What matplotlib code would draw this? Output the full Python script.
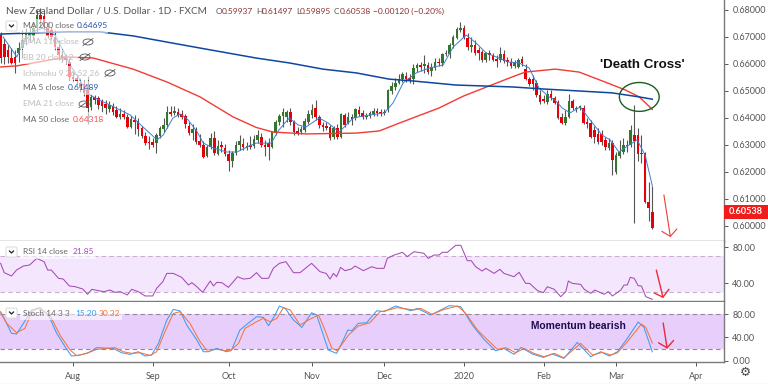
import matplotlib
matplotlib.use("Agg")
import matplotlib.pyplot as plt
from matplotlib.patches import Ellipse, Rectangle, FancyBboxPatch

# daily candles (bar number, price)
opens = [.6707,.6674,.6652,.6622,.6626,.6641,.6659,.6689,.6704,.6704,.6733,.6781,.6778,.6733,.6726,.6700,.6663,.6633,.6626,.6607,
         .6552,.6548,.6530,.6526,.6504,.6441,.6478,.6474,.6463,.6452,.6433,.6444,.6430,.6404,.6415,.6404,.6367,.6393,.6389,.6363,
         .6333,.6311,.6311,.6307,.6333,.6359,.6374,.6422,.6419,.6422,.6415,.6407,.6370,.6344,.6359,.6315,.6300,.6259,.6293,.6326,
         .6267,.6300,.6289,.6267,.6241,.6270,.6300,.6304,.6289,.6300,.6296,.6319,.6330,.6300,.6307,.6293,.6344,.6385,.6407,.6404,
         .6422,.6385,.6352,.6348,.6356,.6385,.6411,.6437,.6404,.6374,.6370,.6367,.6330,.6363,.6330,.6411,.6381,.6404,.6400,.6430,
         .6419,.6404,.6407,.6415,.6426,.6422,.6422,.6430,.6500,.6515,.6530,.6544,.6556,.6548,.6544,.6585,.6596,.6593,.6596,.6574,
         .6585,.6607,.6604,.6637,.6637,.6670,.6696,.6726,.6733,.6696,.6663,.6670,.6652,.6644,.6615,.6641,.6633,.6619,.6615,.6637,
         .6615,.6607,.6593,.6589,.6619,.6581,.6544,.6544,.6530,.6485,.6470,.6459,.6489,.6474,.6459,.6404,.6381,.6404,.6463,.6433,
         .6437,.6437,.6385,.6381,.6356,.6341,.6341,.6319,.6289,.6307,.6200,.6259,.6274,.6296,.6300,.6337,.6337,.6270,.6270,.6089,.6052]
closes = [.6622,.6626,.6626,.6604,.6604,.6659,.6689,.6719,.6719,.6733,.6781,.6763,.6737,.6704,.6700,.6663,.6633,.6622,.6615,.6552,
          .6544,.6537,.6511,.6493,.6437,.6478,.6467,.6448,.6444,.6437,.6448,.6422,.6404,.6415,.6404,.6367,.6396,.6385,.6359,.6333,
          .6307,.6307,.6300,.6337,.6363,.6374,.6422,.6415,.6426,.6411,.6404,.6378,.6344,.6359,.6311,.6300,.6256,.6293,.6326,.6270,
          .6296,.6293,.6267,.6241,.6270,.6300,.6315,.6293,.6296,.6293,.6322,.6337,.6300,.6293,.6293,.6348,.6385,.6407,.6422,.6422,
          .6385,.6348,.6344,.6359,.6389,.6415,.6430,.6404,.6374,.6367,.6363,.6326,.6363,.6330,.6415,.6374,.6404,.6396,.6433,.6415,
          .6404,.6407,.6419,.6426,.6419,.6419,.6419,.6504,.6519,.6530,.6544,.6563,.6544,.6541,.6585,.6596,.6589,.6600,.6570,.6589,
          .6607,.6604,.6637,.6641,.6670,.6700,.6730,.6733,.6696,.6663,.6670,.6641,.6641,.6615,.6641,.6633,.6615,.6611,.6637,.6611,
          .6607,.6593,.6607,.6615,.6604,.6544,.6526,.6526,.6485,.6459,.6463,.6489,.6474,.6456,.6400,.6381,.6404,.6463,.6437,.6437,
          .6444,.6381,.6378,.6330,.6330,.6311,.6311,.6293,.6307,.6244,.6263,.6274,.6300,.6300,.6356,.6315,.6267,.6267,.6089,.6067,.5993]
highs = [.6719,.6696,.6670,.6659,.6652,.6681,.6726,.6733,.6741,.6756,.6800,.6807,.6793,.6756,.6737,.6726,.6689,.6652,.6637,.6622,
         .6570,.6563,.6548,.6541,.6556,.6489,.6485,.6481,.6470,.6467,.6463,.6456,.6444,.6437,.6430,.6415,.6407,.6411,.6400,.6370,
         .6348,.6333,.6326,.6344,.6370,.6400,.6444,.6444,.6444,.6437,.6430,.6415,.6385,.6378,.6367,.6341,.6315,.6300,.6344,.6352,
         .6319,.6315,.6304,.6281,.6278,.6315,.6337,.6326,.6311,.6333,.6337,.6356,.6344,.6319,.6326,.6352,.6393,.6415,.6437,.6430,
         .6437,.6393,.6367,.6370,.6400,.6430,.6452,.6467,.6411,.6385,.6385,.6374,.6370,.6378,.6419,.6419,.6422,.6415,.6437,.6444,
         .6430,.6419,.6426,.6437,.6437,.6433,.6433,.6507,.6533,.6548,.6563,.6570,.6570,.6563,.6600,.6604,.6607,.6633,.6607,.6604,
         .6622,.6622,.6641,.6652,.6678,.6707,.6737,.6756,.6744,.6715,.6700,.6689,.6663,.6652,.6644,.6652,.6641,.6633,.6663,.6652,
         .6626,.6622,.6615,.6622,.6630,.6600,.6552,.6559,.6541,.6504,.6485,.6504,.6504,.6481,.6467,.6419,.6430,.6489,.6470,.6444,
         .6448,.6448,.6400,.6393,.6370,.6363,.6356,.6330,.6326,.6319,.6274,.6319,.6326,.6319,.6374,.6448,.6363,.6337,.6274,.6163,.6148]
lows = [.6604,.6600,.6604,.6600,.6567,.6607,.6622,.6670,.6681,.6689,.6719,.6741,.6726,.6696,.6689,.6652,.6615,.6607,.6600,.6541,
        .6533,.6522,.6496,.6481,.6378,.6430,.6452,.6433,.6422,.6415,.6422,.6411,.6400,.6396,.6396,.6363,.6363,.6341,.6333,.6326,
        .6300,.6285,.6293,.6270,.6326,.6348,.6363,.6407,.6411,.6404,.6396,.6363,.6337,.6319,.6304,.6293,.6252,.6256,.6285,.6263,
        .6263,.6274,.6259,.6204,.6219,.6263,.6281,.6281,.6281,.6285,.6289,.6307,.6293,.6259,.6244,.6289,.6337,.6374,.6367,.6385,
        .6374,.6337,.6337,.6341,.6348,.6378,.6400,.6393,.6363,.6352,.6356,.6319,.6322,.6322,.6326,.6367,.6378,.6374,.6393,.6407,
        .6396,.6396,.6400,.6407,.6407,.6407,.6411,.6422,.6489,.6504,.6526,.6533,.6533,.6530,.6526,.6570,.6574,.6567,.6563,.6556,
        .6578,.6593,.6593,.6630,.6622,.6659,.6693,.6719,.6693,.6652,.6644,.6633,.6615,.6607,.6607,.6615,.6611,.6589,.6607,.6604,
        .6593,.6585,.6585,.6585,.6593,.6541,.6519,.6504,.6478,.6452,.6456,.6452,.6467,.6452,.6396,.6378,.6374,.6400,.6430,.6422,
        .6430,.6378,.6363,.6326,.6307,.6304,.6300,.6281,.6281,.6189,.6193,.6252,.6267,.6274,.6293,.6011,.6241,.6233,.6085,.6019,.5989]

ma200_x = [0,9,18.4,27.5,36.6,46,55.1,70.6,79.7,89,98.2,107.3,114,125.8,141.3,150.4,159.8,168.9,176.4,180]
ma200 = [.6711,.6715,.6719,.6719,.6704,.6681,.6659,.6622,.6604,.6581,.6567,.6544,.6537,.6522,.6515,.6507,.6500,.6493,.6478,.64695]
ma50_x = [0,4.5,9,18.4,25.6,36.6,46,55.1,64.2,70.6,75.2,84.4,98.2,104.6,110.1,121.1,127.8,135,141.3,144.9,153.2,159.8,167,172.5,176.4,180]
ma50 = [.6589,.6593,.6604,.6626,.6622,.6581,.6533,.6478,.6404,.6365,.6348,.6341,.6344,.6352,.6381,.6437,.6481,.6519,.6552,.6570,.6581,.6570,.6533,.6504,.6478,.64318]
ma5_x = [0.7,2.6,4.5,6.2,9,11.7,15,17.2,19.2,21.4,23.9,26.1,30.2,35.8,39.3,43.2,44.9,47.6,49.6,51.8,54.3,56,58.7,62.5,65.3,68.1,70.6,74.7,76.9,79.7,
         82.2,84.4,88,90.5,93.5,97.4,100.1,106,108.4,111.2,114.8,118.4,122.2,125,128.6,131.3,134.1,140.4,143.2,146,148.7,151.5,153.1,155.1,157.3,160.1,162.8,166.1,168.3,170.8,173.6,175.8,178,180]
ma5 = [.6700,.6663,.6626,.6678,.6719,.6733,.6707,.6652,.6596,.6552,.6493,.6474,.6448,.6411,.6367,.6319,.6337,.6400,.6415,.6393,.6348,.6307,.6289,.6274,.6274,.6293,.6307,.6307,.6356,.6400,
       .6374,.6367,.6400,.6381,.6348,.6400,.6407,.6419,.6456,.6530,.6567,.6585,.6596,.6663,.6707,.6678,.6641,.6607,.6604,.6585,.6511,.6478,.6467,.6437,.6419,.6441,.6393,.6337,.6319,.6274,.6300,.6319,.6263,.61489]

rsi_x = [0,1,3,4.4,6.3,8,10,12,13,14,16,17.3,19,20.6,22.7,24,25.2,27.5,28.6,30.2,31.6,33,35,36.2,38,39.9,42,43.1,44.8,45.9,47.7,50,51.9,52.8,54.2,55.8,57.9,58.8,59.7,61.1,62.9,64.3,65.4,67.1,68.9,70.7,72.1,74,75.3,77,78.8,80.9,82.7,85.9,88.2,89.9,91,91.9,92.8,93.9,95.1,96.9,97.9,100.2,102.5,103.9,105.9,
         106.8,108.7,111,112.3,114.2,116.9,118.1,119.7,121.1,122,123.4,125.7,127.1,128.9,130,131.2,133,134,136.3,137.9,139,141.8,143.2,145,146.1,148.3,149.9,151,152.9,154.7,156.1,156.8,157.9,160.2,161.2,163,164.1,166.7,167.8,169,171.3,172.2,173.1,173.9,175,176.1,177,178.2,180]
rsi = [61.9,51.5,47.8,54.4,58.9,60,67.4,63.7,54.4,54.4,45.2,44.4,36.7,35.9,33.3,27.4,33,31.1,30.4,32.2,29.6,30.4,26.7,33,30.4,25.6,25.6,34.1,41.5,50.7,50.7,46.3,37.8,40.4,35.9,29.6,42.2,36.7,40.7,40.4,35.2,41.5,47,44.4,45.2,51.5,45.2,45.2,56.3,61.9,63.7,51.5,51.5,61.9,52.6,50.7,44.4,50.7,47,57.4,53.7,55.6,58.9,53.7,58.1,56.3,56.3,
       67.4,71.1,74.1,69.3,74.8,73,67.4,71.1,71.1,74.1,74.1,81.9,81.9,64.8,64.8,58.1,53.3,56.3,50.7,55.2,50.7,47,51.9,39.6,39.6,31.5,29.3,35.9,33,24.8,30.4,42.2,39.6,38.5,33,28.5,32.2,27.4,30.4,25.6,32.2,37.8,37.8,46.3,45.2,37,36.7,24.8,21.85]

stoch_k_x = [0,1.2,3,4.4,6.3,8.6,10.9,13.2,15.5,17.8,19.6,21.9,24.2,26.5,31.1,33.4,35.7,38,39.9,41.7,43.6,45.9,47.7,49.6,51.4,54.2,56,57.4,59.7,62.4,63.8,66.1,68,70.7,72.6,74,75.8,77,78.6,80.9,83.2,85.9,87.3,90.5,92.8,94.2,95.9,97,98.8,101.1,103.9,105.9,
             109.1,113.3,115.1,118.8,123.9,127.1,130.3,133.5,136.7,139,141.8,143.8,146.9,149.9,152.4,155.6,159.3,163,165.8,168.1,170.4,173.1,176.1,177.7,180]
stoch_k = [84,69.7,46.9,45.7,64,86.9,90.9,78.3,46.9,24,8,9.7,13.7,22.3,21.1,13.7,10.9,15.4,8,9.7,29.7,69.7,88,85.1,61.1,35.4,15.4,15.4,21.1,15.4,18.3,52.6,62.3,75.4,74.3,60,78.3,93.7,89.7,69.7,57.1,82.3,78.3,18.3,12.6,29.7,52.6,51.4,64,65.1,85.7,84,
           93.7,85.7,89.7,78.3,94.3,92.6,61.1,36.6,17.1,21.1,10.9,22.9,11.4,5.7,11.4,4,31.4,6.9,15.4,8,15.4,38.3,66.3,57.1,15.2]
stoch_d_x = [0,1.7,4.4,6.7,8.6,10.4,13.6,16.4,19.2,21,23.8,26.5,31.6,33.9,36.2,38.5,41.3,43.1,45.4,47.7,49.6,52.3,55.1,56.9,59.7,63.4,65.7,67.5,70.7,72.6,74.4,76.3,78.1,80,82.7,85,87.8,89.2,91.5,93,96.1,98.8,102,104.8,105.9,
             109.6,114.2,116,119.2,122.5,126.2,128.5,131.7,137.2,139.5,142.3,144.6,147.3,150.1,152.9,155.6,160.2,163.5,166.2,168.5,170.4,173.1,177,178.2,180]
stoch_d = [82.3,64,48,55.4,84,89.7,78.3,44,18.3,8.6,12.6,19.4,22.3,15.4,12.6,13.7,9.1,15.4,49.7,81.1,84,64,32.6,18.3,19.4,16.6,29.7,55.4,66.9,72.6,66.9,72.6,90.9,86.9,61.1,69.7,78.3,58.3,21.1,17.1,44,59.4,65.1,84,85.1,
           90.9,86.9,89.7,79.4,88,93.7,81.1,52.6,19.4,22.3,13.7,21.1,12.6,6.9,12.6,5.1,29.7,9.7,14.3,9.7,13.7,32.6,62.9,57.1,30.32]

month_pos = [20, 42, 63, 86, 106, 128, 150, 170, 192]
month_labels = ["Aug", "Sep", "Oct", "Nov", "Dec", "2020", "Feb", "Mar", "Apr"]
price_ticks = [.60, .61, .62, .63, .64, .65, .66, .67, .68]
last_price = .60538

plt.rcParams["font.family"] = ["Lato", "DejaVu Sans"]
W, H = 768, 384
GREY = "#555555"
AXIS = "#7a7a7a"
HEAD = "->,head_length=0.45,head_width=0.55"


def panel(top, bottom, ylim):
    ax = fig.add_axes([0, 1 - bottom / H, 724 / W, (bottom - top) / H])
    ax.set_xlim(-0.17, 199.8)
    ax.set_ylim(*ylim)
    ax.yaxis.tick_right()
    ax.set_xticks([])
    for s in ("top", "left"):
        ax.spines[s].set_visible(False)
    for s in ("right", "bottom"):
        ax.spines[s].set_color(AXIS)
        ax.spines[s].set_linewidth(1)
    ax.tick_params(axis="y", colors=GREY, labelsize=6.5, length=3, width=0.7, pad=3)
    return ax


fig = plt.figure(figsize=(W / 100, H / 100), dpi=100, facecolor="white")

ax = panel(0, 241, (.59444, .6837))
ax.set_yticks(price_ticks, [f"{t:.5f}" for t in price_ticks])
for i in range(len(opens)):
    up = closes[i] >= opens[i]
    col = "#33752f" if up else "#e6000a"
    ax.vlines(i, lows[i], highs[i], color="#555555", lw=0.8, zorder=2)
    ax.bar(i, abs(closes[i] - opens[i]) + 0.0002, bottom=min(opens[i], closes[i]) - 0.0001,
           width=0.72, color=col, zorder=3)
ax.plot(ma5_x, ma5, color="#3f7fd0", lw=0.7, zorder=4)
ax.plot(ma50_x, ma50, color="#f23b32", lw=1.0, zorder=4)
ax.plot(ma200_x, ma200, color="#0d47a1", lw=1.1, zorder=4)
ax.add_patch(Ellipse((176.4, .6478), 11, .0107, fill=False, ec="#1b5e20", lw=1.0, zorder=5))
ax.text(177.3, .6597, "'Death Cross'", fontsize=9.6, fontweight="bold", color="#111111",
        ha="center", va="center", family=["Liberation Sans"], zorder=6)
ax.annotate("", xy=(185, .5959), xytext=(183.2, .6115), zorder=6,
            arrowprops=dict(arrowstyle=HEAD, color="#ef3b36", lw=0.8, shrinkA=0, shrinkB=0))

ax_rsi = panel(241, 301, (20, 86.7))
ax_rsi.set_yticks([40, 80], ["40.00", "80.00"])
ax_rsi.axhspan(30, 70, color="#f4e6fd", lw=0)
ax_rsi.axhline(70, color="#c9aed0", lw=0.8, ls=(0, (4, 3)))
ax_rsi.axhline(30, color="#c9aed0", lw=0.8, ls=(0, (4, 3)))
ax_rsi.plot(rsi_x, rsi, color="#a34bb5", lw=0.75)
ax_rsi.annotate("", xy=(183, 23.3), xytext=(181.1, 54.4),
                arrowprops=dict(arrowstyle=HEAD, color="#ef2b36", lw=1.0, shrinkA=0, shrinkB=0))

ax_st = panel(302, 362, (-2.2, 100.6))
ax_st.set_yticks([0, 40, 80], ["0.00", "40.00", "80.00"])
ax_st.axhspan(20, 80, color="#e8cffb", lw=0)
ax_st.axhline(80, color="#94849c", lw=0.8, ls=(0, (4, 3)))
ax_st.axhline(20, color="#94849c", lw=0.8, ls=(0, (4, 3)))
ax_st.plot(stoch_k_x, stoch_k, color="#3f9bf0", lw=0.75)
ax_st.plot(stoch_d_x, stoch_d, color="#f4743b", lw=0.75)
ax_st.text(159.5, 59, "Momentum bearish", fontsize=7.4, fontweight="bold", color="#1d0b4d",
           ha="center", va="center", family=["Liberation Sans"])
ax_st.annotate("", xy=(184.1, 20.6), xytext=(183, 64.6),
               arrowprops=dict(arrowstyle=HEAD, color="#e9283c", lw=1.0, shrinkA=0, shrinkB=0))
ax_st.set_xticks(month_pos, month_labels)
ax_st.tick_params(axis="x", colors=GREY, labelsize=6.5, length=3, width=0.7, pad=4)

# pixel-space overlay for the TradingView legend furniture
ov = fig.add_axes([0, 0, 1, 1], zorder=10)
ov.set_xlim(0, W)
ov.set_ylim(H, 0)
ov.axis("off")
ov.patch.set_alpha(0)

ov.add_patch(Rectangle((724, 205), 44, 14, color="#f01c1c", lw=0))
ov.text(746, 212, f"{last_price:.5f}", color="white", fontsize=6.6, fontweight="bold", ha="center", va="center")
ov.text(745, 372.5, "\u2699", color="#444444", fontsize=9, ha="center", va="center", family=["DejaVu Sans"])
ov.plot([0, W], [383.5, 383.5], color="#e4e4e4", lw=1)


def row(y, parts, right, eye=None):
    ov.add_patch(Rectangle((20, y - 7), right - 20, 14, color="white", alpha=0.6, lw=0))
    for x, s, c in parts:
        ov.text(x, y, s, color=c, fontsize=6.0, va="center", ha="left")
    if eye:
        ov.add_patch(Ellipse((eye, y), 10, 6, fill=False, ec="#555555", lw=0.6))
        ov.plot([eye - 5, eye + 5], [y + 3.5, y - 3.5], color="#555555", lw=0.6)


def chevron(y):
    ov.add_patch(FancyBboxPatch((6, y - 5), 11, 10, boxstyle="round,pad=0,rounding_size=1.5",
                                fc="white", ec="#dddddd", lw=0.8))
    ov.plot([9.5, 11.5, 13.5], [y - 1, y + 1, y - 1], color="#222222", lw=0.9)


ov.text(6, 11, "New Zealand Dollar / U.S. Dollar · 1D · FXCM", color="#555555", fontsize=7.2, va="center")
for lab, xl, val, xv in [("O", 216, "0.59937", 222), ("H", 256, "0.61497", 262), ("L", 296, "0.59895", 300),
                         ("C", 334, "0.60538", 340), ("", 373, "\u22120.00120 (\u22120.20%)", 373)]:
    if lab:
        ov.text(xl, 11, lab, color="#555555", fontsize=6.0, va="center")
    ov.text(xv, 11, val, color="#8c2f2f", fontsize=6.0, va="center")

chevron(26)
row(26, [(23, "MA 200 close", "#666666"), (77, "0.64695", "#2150a8")], 108)
row(42, [(23, "EMA 110 close", "#bdbdbd")], 80, eye=88)
row(57, [(23, "BB 20 close 2", "#bdbdbd")], 78, eye=85)
row(73, [(23, "Ichimoku 9 26 52 26", "#bdbdbd")], 100, eye=110)
row(88, [(23, "MA 5 close", "#666666"), (68, "0.61489", "#2150a8")], 100)
row(104, [(23, "EMA 21 close", "#bdbdbd")], 76, eye=84)
row(119, [(23, "MA 50 close", "#666666"), (73, "0.64318", "#f5504a")], 103)
chevron(252)
row(252, [(23, "RSI 14 close", "#666666"), (73, "21.85", "#a34bb5")], 96)
chevron(313)
row(313, [(23, "Stoch 14 3 3", "#666666"), (75, "15.20", "#2a9df4"), (99, "30.32", "#f4702b")], 122)

fig.savefig("out.png", dpi=100)
